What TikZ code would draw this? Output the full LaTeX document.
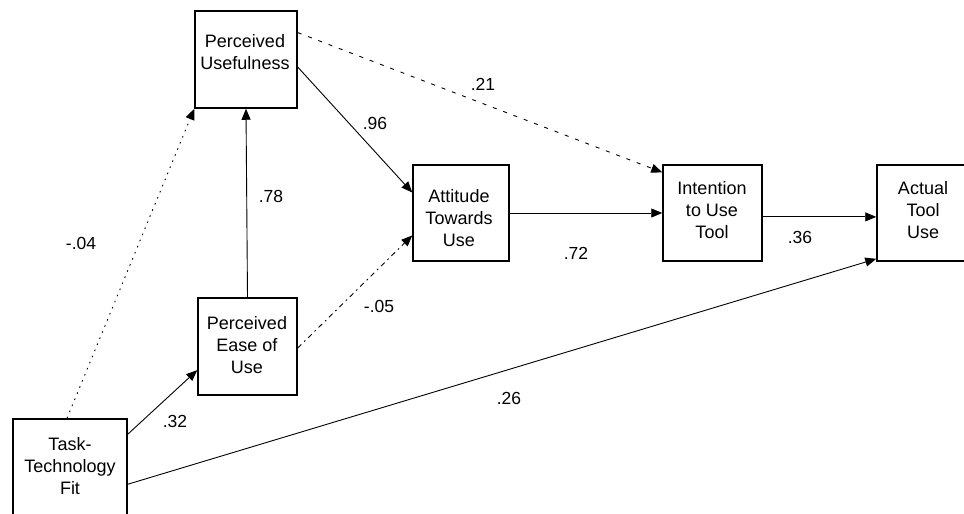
\documentclass[tikz,border=0pt]{standalone}
\usepackage{fontspec}
\setmainfont{Liberation Sans}
\usetikzlibrary{arrows.meta,calc}
\begin{document}
\begin{tikzpicture}[x=1pt,y=-1pt,
  box/.style={draw,line width=1.5pt,inner sep=0pt},
  txt/.style={align=center,inner sep=0pt,font=\fontsize{18}{22}\selectfont},
  lbl/.style={inner sep=0pt,font=\fontsize{17.5}{20}\selectfont},
  conn/.style={line width=0.9pt,-{Triangle[length=11pt,width=9pt]}},
  dotline/.style={dash pattern=on 1.6pt off 5pt},
  dashline/.style={dash pattern=on 4pt off 7pt},
  dashdotline/.style={dash pattern=on 5pt off 4pt on 1.6pt off 4pt}]
\useasboundingbox (0,0) rectangle (964,514);
\clip (0,0) rectangle (964,514);
% boxes
\node[box,minimum width=102pt,minimum height=97pt] (pu) at (246,59.5) {};
\node[box,minimum width=99pt,minimum height=97pt] (peou) at (247.5,346.5) {};
\node[box,minimum width=96pt,minimum height=96pt] (atu) at (461,213) {};
\node[box,minimum width=99pt,minimum height=96pt] (int) at (712.5,213) {};
\node[box,minimum width=96pt,minimum height=96pt] (act) at (925,213) {};
\node[box,minimum width=114pt,minimum height=120pt] (ttf) at (70,479) {};
% texts
\node[txt] (puT) at (245,52) {Perceived\\Usefulness};
\node[txt] (peouT) at (247,345) {Perceived\\Ease of\\Use};
\node[txt] (atuT) at (459,218) {Attitude\\Towards\\Use};
\node[txt] (intT) at (712,210) {Intention\\to Use\\Tool};
\node[txt] (actT) at (923,210) {Actual\\Tool\\Use};
\node[txt] (ttfT) at (70,466) {Task-\\Technology\\Fit};
% connectors
\draw[conn,dotline] ([xshift=-3pt]ttf.north) -- (pu.south west);
\draw[conn] (peou.north) -- (pu.south);
\draw[conn] ($(pu.north east)!0.577!(pu.south east)$) -- ($(atu.north west)!0.29!(atu.south west)$);
\draw[conn,dashline] ($(pu.north east)!0.227!(pu.south east)$) -- ($(int.north west)!0.083!(int.south west)$);
\draw[conn,dashdotline] ($(peou.north east)!0.515!(peou.south east)$) -- ($(atu.north west)!0.73!(atu.south west)$);
\draw[conn] ([yshift=-16pt]ttf.north east) -- ($(peou.north west)!0.74!(peou.south west)$);
\draw[conn] ([yshift=-66pt]ttf.north east) -- ($(act.north west)!0.97!(act.south west)$);
\draw[conn] (atu.east) -- (int.west);
\draw[conn] ($(int.north east)!0.54!(int.south east)$) -- ($(act.north west)!0.54!(act.south west)$);
% labels
\node[lbl] (l21) at (483,84) {.21};
\node[lbl] (l96) at (375,123) {.96};
\node[lbl] (l78) at (271,196) {.78};
\node[lbl] (l04) at (81,243) {-.04};
\node[lbl] (l05) at (379,306) {-.05};
\node[lbl] (l72) at (576,253) {.72};
\node[lbl] (l36) at (800,237) {.36};
\node[lbl] (l26) at (509,398) {.26};
\node[lbl] (l32) at (175,421) {.32};
\end{tikzpicture}
\end{document}
